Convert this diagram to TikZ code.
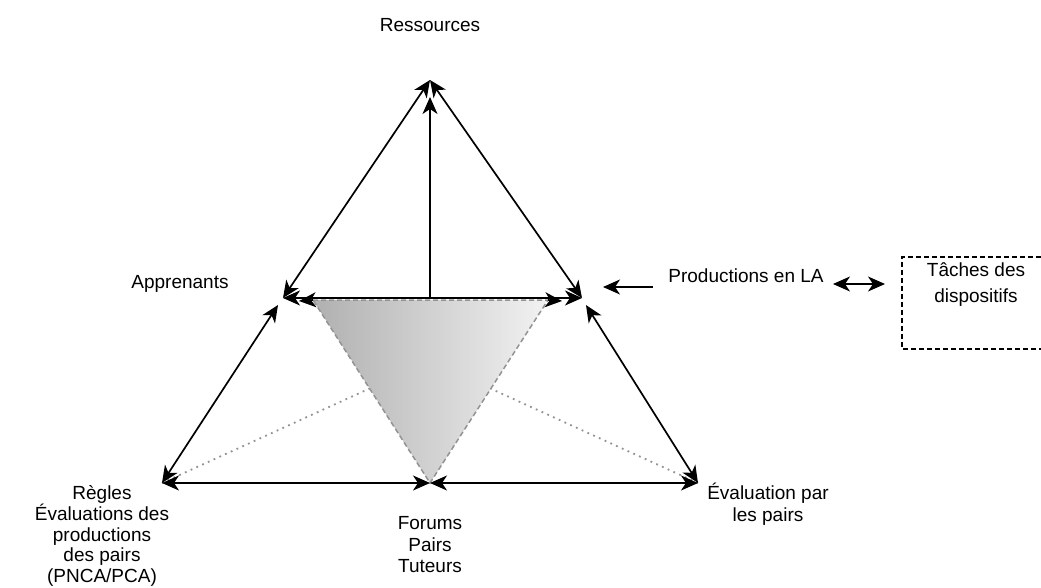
\documentclass[tikz,border=0pt]{standalone}
\usepackage{fontspec}
\setmainfont{Liberation Sans}
\usetikzlibrary{arrows.meta}
\begin{document}
\begin{tikzpicture}[x=1pt,y=-1pt,
  lbl/.style={inner sep=0pt,font=\fontsize{19}{21.5}\selectfont,align=center},
  link/.style={line width=1.7pt,{Stealth[length=17pt,width=15pt,inset=5pt]}-{Stealth[length=17pt,width=15pt,inset=5pt]}},
  onearrow/.style={line width=1.7pt,-{Stealth[length=17pt,width=15pt,inset=5pt]}},
  hint/.style={gray!85,line width=1.8pt,dash pattern=on 1.8pt off 4.5pt},
  zone/.style={draw=gray!85,dash pattern=on 5pt off 3pt,line width=1.5pt,shading=axis,left color=gray!62,right color=gray!10}]
\useasboundingbox (0,0) rectangle (1041,588);
% corners of the outer triangle
\coordinate (R) at (430,80);
\coordinate (A) at (283,298);
\coordinate (Alo) at (278,305);
\coordinate (P) at (582,298);
\coordinate (Plo) at (586,305);
\coordinate (B) at (162,483);
\coordinate (E) at (698,483);
\coordinate (F) at (430,483);
\coordinate (M) at (430,298);
\coordinate (Mtop) at (430,97);
% inner inverted triangle
\coordinate (T1) at (313,300);
\coordinate (T2) at (548,300);
\coordinate (C) at (430,361);
% dotted guides toward the centre
\draw[hint] (B) -- (C);
\draw[hint] (E) -- (C);
\draw[zone] (T1) -- (T2) -- (F) -- cycle;
% sides
\draw[link] (A) -- (R);
\draw[link] (P) -- (R);
\draw[link] (B) -- (Alo);
\draw[link] (E) -- (Plo);
\draw[link] (A) -- (P);
\draw[link] (B) -- (F);
\draw[link] (E) -- (F);
\draw[onearrow] (M) -- (Mtop);
\draw[onearrow] (T1) -- ++(-14,1);
\draw[onearrow] (T2) -- ++(14,1);
% labels
\node[lbl] (res) at (430,25) {Ressources};
\node[lbl] (app) at (180,284) {Apprenants};
\node[lbl] (prod) at (746,276) {Productions en LA};
\node[lbl,font=\fontsize{19}{20.8}\selectfont] (reg) at (102,536) {Règles\\Évaluations des\\productions\\des pairs\\(PNCA/PCA)};
\node[lbl] (eval) at (768,504) {Évaluation par\\les pairs};
\node[lbl] (for) at (430,545) {Forums\\Pairs\\Tuteurs};
\node[lbl,font=\fontsize{19}{26}\selectfont] (tache) at (976,285) {Tâches des\\dispositifs};
% arrows beside the production label
\coordinate (pa1) at (653,287);
\coordinate (pa2) at (603,287);
\draw[onearrow] (pa1) -- (pa2);
\coordinate (pb1) at (833,284);
\coordinate (pb2) at (885,284);
\draw[link] (pb1) -- (pb2);
% open dashed frame around the device tasks
\draw[dash pattern=on 5pt off 3pt,line width=1.2pt] (1041,257) -- (902,257) -- (902,349) -- (1041,349);
\end{tikzpicture}
\end{document}
